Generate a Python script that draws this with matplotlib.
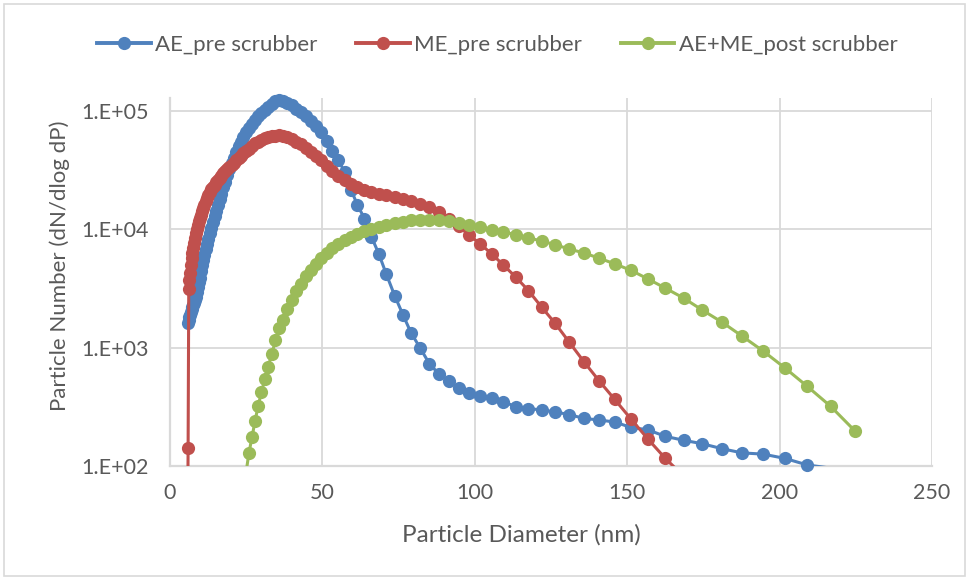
import numpy as np
import matplotlib
matplotlib.use("Agg")
import matplotlib.pyplot as plt
from matplotlib.lines import Line2D
from matplotlib.patches import Rectangle
from matplotlib.ticker import FixedLocator, FuncFormatter, NullLocator
from matplotlib.transforms import Bbox, TransformedBbox

# ---------------- data ----------------
diam_nm = [5.73, 5.94, 6.15, 6.38, 6.61, 6.85, 7.09, 7.37, 7.64, 7.91, 8.20, 8.51, 8.82, 9.14,
           9.47, 9.82, 10.2, 10.6, 10.9, 11.3, 11.8, 12.2, 12.6, 13.1, 13.6, 14.1, 14.6, 15.1,
           15.7, 16.3, 16.8, 17.5, 18.1, 18.8, 19.5, 20.2, 20.9, 21.7, 22.5, 23.3, 24.1, 25.0,
           25.9, 26.9, 27.9, 28.9, 30.0, 31.1, 32.2, 33.4, 34.6, 35.9, 37.2, 38.5, 40.0, 41.4,
           42.9, 44.5, 46.1, 47.8, 49.6, 51.4, 53.3, 55.2, 57.3, 59.4, 61.5, 63.8, 66.1, 68.5,
           71.0, 73.7, 76.4, 79.1, 82.0, 85.1, 88.2, 91.4, 94.7, 98.2, 101.8, 105.5, 109.4,
           113.4, 117.6, 121.9, 126.3, 131.0, 135.8, 140.7, 145.9, 151.2, 156.8, 162.5, 168.5,
           174.7, 181.1, 187.7, 194.6, 201.7, 209.1, 216.7, 224.7]

ae_pre = [np.nan, 1600, 1700, 1800, 1900, 2000, 2100, 2200, 2300, 2400, 2500, 2700, 2950, 3250,
          3550, 3900, 4400, 5000, 5500, 6100, 6800, 7500, 8300, 9200, 10300, 11500, 12800, 14200,
          16000, 18000, 20000, 22500, 25000, 28500, 32000, 36000, 40000, 45000, 50000, 55000,
          60000, 66000, 72000, 78000, 84000, 90000, 96000, 102000, 108000, 115000, 121000,
          123000, 121000, 117000, 111000, 104000, 97000, 90000, 82000, 74000, 66000, 56000,
          46000, 38500, 30500, 21500, 16000, 12300, 8600, 6200, 4150, 2750, 1900, 1330, 1000,
          730, 600, 525, 455, 415, 390, 375, 348, 318, 305, 298, 286, 272, 252, 245, 235, 212,
          202, 178, 165, 154, 140, 129, 126, 116, 102, 96, 80]

me_pre = [20, 141, 3100, 3700, 4300, 5000, 5700, 6300, 7000, 7700, 8500, 9300, 10100, 10900,
          11700, 12500, 13300, 14200, 15000, 16000, 17200, 18400, 19500, 20700, 21800, 22800,
          23800, 24800, 26000, 27200, 28300, 29600, 30800, 32200, 33600, 35000, 36500, 38200,
          40000, 41800, 43700, 45700, 48000, 50500, 53000, 55000, 57000, 58500, 59800, 60800,
          61600, 62000, 61500, 60000, 57500, 55000, 52000, 48500, 45000, 41500, 38500, 34500,
          31000, 28000, 26000, 24200, 22800, 21600, 20700, 20000, 19400, 18800, 18100, 17300,
          16400, 15300, 14000, 12300, 10600, 8900, 7500, 6200, 4970, 3950, 3030, 2200, 1610,
          1110, 760, 527, 365, 250, 169, 116, 82, 55, np.nan, np.nan, np.nan, np.nan, np.nan,
          np.nan, np.nan]

ae_me_post = [np.nan] * 41 + [
          90, 129, 175, 240, 320, 420, 540, 690, 880, 1150, 1450, 1700, 2100, 2500, 3000,
          3450, 4000, 4500, 5100, 5750, 6350, 6950, 7500, 8100, 8650, 9150, 9650, 10100, 10500,
          10900, 11300, 11600, 11850, 12000, 12050, 11950, 11700, 11300, 10900, 10400, 9900,
          9450, 9000, 8450, 7950, 7400, 6800, 6300, 5700, 5100, 4500, 3800, 3180, 2620, 2070,
          1640, 1250, 935, 675, 470, 320, 198]

series_names = ["AE_pre scrubber", "ME_pre scrubber", "AE+ME_post scrubber"]
series_colors = ["#4F81BD", "#C0504D", "#9BBB59"]
x_ticks = [0, 50, 100, 150, 200, 250]
y_ticks = [1e2, 1e3, 1e4, 1e5]
x_label = "Particle Diameter (nm)"
y_label = "Particle Number (dN/dlog dP)"

# ---------------- figure ----------------
plt.rcParams['font.family'] = ['Lato', 'DejaVu Sans']
W, H = 969, 578
fig = plt.figure(figsize=(W / 100, H / 100), dpi=100)
fig.patch.set_facecolor("white")
fig.add_artist(Rectangle((4 / W, 2 / H), 961 / W, 572 / H, transform=fig.transFigure,
                         fill=False, edgecolor="#d9d9d9", linewidth=1.2))

ax = fig.add_axes([170 / W, 1 - 466 / H, (932 - 170) / W, (466 - 98) / H])
ax.set_yscale("log")
ax.set_xlim(0, 250)
ax.set_ylim(100, 10 ** 5.108)

ax.xaxis.set_major_locator(FixedLocator(x_ticks))
ax.yaxis.set_major_locator(FixedLocator(y_ticks))
ax.yaxis.set_minor_locator(NullLocator())
ax.yaxis.set_major_formatter(FuncFormatter(lambda v, p: "1.E+%02d" % int(round(np.log10(v)))))
ax.grid(True, color="#d9d9d9", linewidth=1.3)
ax.set_axisbelow(True)
for s in ["top", "right"]:
    ax.spines[s].set_visible(False)
for s in ["left", "bottom"]:
    ax.spines[s].set_color("#d9d9d9")
    ax.spines[s].set_linewidth(1.6)
ax.tick_params(length=0, labelsize=15.5, labelcolor="#595959")
ax.tick_params(axis="y", pad=15)
ax.tick_params(axis="x", pad=12)
ax.set_xlabel(x_label, fontsize=17.5, color="#595959", va="center")
ax.xaxis.set_label_coords((521 - 170) / 762, -(535 - 466) / 368)
ax.set_ylabel(y_label, fontsize=16, color="#595959", va="center")
ax.yaxis.set_label_coords(-(170 - 60) / 762, (466 - 266) / 368)

clip = TransformedBbox(Bbox([[0, 0], [1, 1.06]]), ax.transAxes)
x = np.array(diam_nm)
handles = []
for i, (vals, name, col) in enumerate(zip([ae_pre, me_pre, ae_me_post], series_names, series_colors)):
    y = np.array(vals, dtype=float)
    ok = ~np.isnan(y)
    ln, = ax.plot(x[ok], y[ok], color=col, linewidth=2.2, zorder=3 + i)
    ln.set_clip_box(clip)
    vis = ok & (y >= 100)
    ax.plot(x[vis], y[vis], linestyle="none", marker="o", markersize=9.5, color=col,
            markeredgewidth=0, zorder=3.5 + i, clip_on=False)
    handles.append(Line2D([], [], color=col, linewidth=2.8, marker="o", markersize=9.5,
                          markeredgewidth=0, label=name))

fig.legend(handles=handles, loc="center", bbox_to_anchor=(497.5 / W, 1 - 45 / H), ncol=3,
           frameon=False, fontsize=16, handlelength=2.4, handletextpad=0.2,
           columnspacing=1.75, labelcolor="#595959")

fig.savefig("out.png", dpi=100, facecolor="white")
